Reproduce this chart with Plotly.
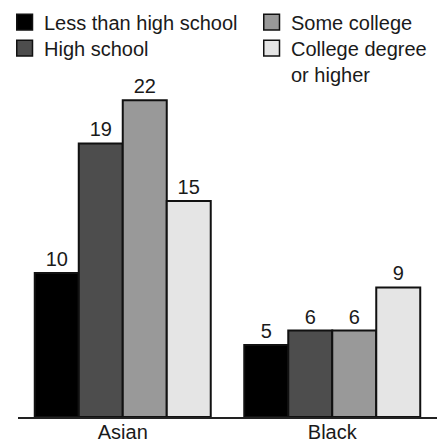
import plotly.graph_objects as go

# Values per group, one list per education level
groups = ["Asian", "Black"]
less_than_hs = [10, 5]
high_school = [19, 6]
some_college = [22, 6]
college_plus = [15, 9]

series = [
    ("Less than high school", less_than_hs, "#000000"),
    ("High school", high_school, "#4d4d4d"),
    ("Some college", some_college, "#999999"),
    ("College degree<br>or higher", college_plus, "#e5e5e5"),
]

W, H = 440, 443
ML, MR, MT, MB = 18, 3, 93, 26
FONT = "Liberation Sans, Arial, Helvetica, sans-serif"
INK = "#1a1a1a"

fig = go.Figure()
for name, vals, color in series:
    fig.add_trace(go.Bar(
        x=groups, y=vals, name=name,
        marker=dict(color=color, line=dict(color="#111111", width=2)),
        text=[str(v) for v in vals], textposition="outside",
        textfont=dict(size=20, color=INK, family=FONT),
        cliponaxis=False, showlegend=False,
    ))

# Hand-placed legend in two columns
pw, ph = W - ML - MR, H - MT - MB


def px_x(x):
    return (x - ML) / pw


def px_y(y):
    return (H - MB - y) / ph


legend_items = [
    (series[0], 16, 13.5),
    (series[1], 16, 39.5),
    (series[2], 263, 13.5),
    (series[3], 263, 39.5),
]
shapes = []
annotations = []
for (name, _, color), x0, y0 in legend_items:
    shapes.append(dict(
        type="rect", xref="paper", yref="paper",
        x0=px_x(x0 + 0.75), x1=px_x(x0 + 16.5), y0=px_y(y0 + 0.75), y1=px_y(y0 + 16.5),
        fillcolor=color, line=dict(color="#111111", width=1.5), layer="above",
    ))
    annotations.append(dict(
        xref="paper", yref="paper", x=px_x(x0 + 26), y=px_y(y0 - 4),
        xanchor="left", yanchor="top", align="left", showarrow=False,
        text=name, font=dict(size=20, color=INK, family=FONT),
    ))

fig.update_layout(
    width=W, height=H,
    margin=dict(l=ML, r=MR, t=MT, b=MB, autoexpand=False),
    paper_bgcolor="white", plot_bgcolor="white",
    barmode="group", bargap=0.16, bargroupgap=0,
    showlegend=False,
    shapes=shapes, annotations=annotations,
    font=dict(family=FONT, size=20, color=INK),
    xaxis=dict(
        showline=True, linecolor="#222222", linewidth=1.5,
        ticks="", showgrid=False, zeroline=False, automargin=False,
        ticklabelstandoff=-4,
        tickfont=dict(size=20, color=INK, family=FONT),
        fixedrange=True,
    ),
    yaxis=dict(
        range=[0, 22.5], visible=False, showgrid=False, zeroline=False,
        automargin=False, fixedrange=True,
    ),
)

fig.write_html("out.html", config={"displayModeBar": False})
